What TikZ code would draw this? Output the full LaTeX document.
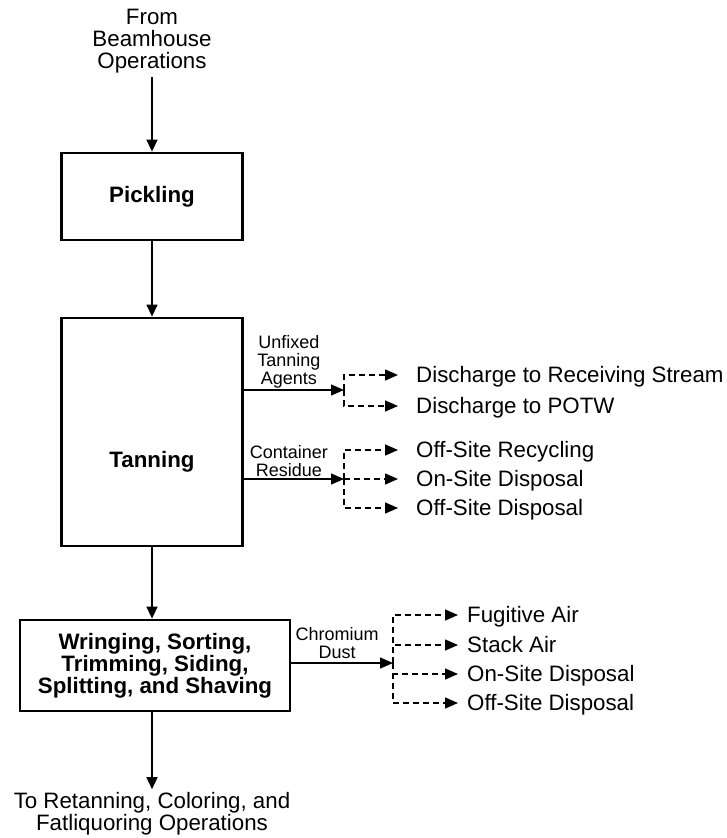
\documentclass[tikz,border=0pt]{standalone}
\usepackage{fontspec}
\setmainfont{Liberation Sans}
\usetikzlibrary{arrows.meta,positioning}

\newcommand{\flowfont}{\fontsize{22.3bp}{22bp}\selectfont}
\newcommand{\boldflow}{\fontsize{22.3bp}{22bp}\selectfont\bfseries}
\newcommand{\tagfont}{\fontsize{18bp}{18bp}\selectfont}

\tikzset{
  procbox/.style={draw, line width=2.8bp, font=\boldflow, align=center, inner sep=0pt},
  flowtxt/.style={font=\flowfont, align=center},
  outtxt/.style={font=\flowfont, anchor=west, text height=15.7bp, text depth=0pt, inner ysep=0pt},
  tagtxt/.style={font=\tagfont, align=center, inner sep=1.5bp},
  flow/.style={line width=1.5bp, -{Triangle[length=12bp,width=11bp]}},
  sideflow/.style={line width=1.3bp, -{Triangle[length=13bp,width=11bp]}},
  drain/.style={line width=1.5bp, dash pattern=on 6bp off 4bp, -{Triangle[length=13bp,width=11bp]}},
}

\begin{document}
\begin{tikzpicture}[x=1bp,y=-1bp]
\useasboundingbox (0,0) rectangle (727,838);

% main process line
\node[flowtxt] (src) at (152,41) {From\\Beamhouse\\Operations};
\node[procbox, minimum width=181bp, minimum height=87bp] (pick) at (152,196.5) {Pickling};
\node[procbox, minimum width=181bp, minimum height=228bp] (tan) at (152,432) {};
\node[font=\boldflow] (tanlbl) at (152,462) {Tanning};
\node[procbox, minimum width=270bp, minimum height=91bp] (wring) at (155,665.5)
  {Wringing, Sorting,\\Trimming, Siding,\\Splitting, and Shaving};
\node[flowtxt, font=\fontsize{22.3bp}{20bp}\selectfont] (dst) at (152,814) {To Retanning, Coloring, and\\Fatliquoring Operations};

\draw[flow] (src) -- (pick);
\draw[flow] (pick) -- (tan);
\draw[flow] (tan.south) -- (tan.south |- wring.north);
\draw[flow] (dst.north |- wring.south) -- (dst);

% split points
\coordinate (s1) at (344,390);
\coordinate (s2) at (344,479);
\coordinate (s3) at (393,663);

\draw[sideflow] (tan.east |- s1) -- node[tagtxt, above, pos=0.45] {Unfixed\\Tanning\\Agents} (s1);
\draw[sideflow] (tan.east |- s2) -- node[tagtxt, above, pos=0.45] {Container\\Residue} (s2);
\draw[sideflow] (wring.east |- s3) -- node[tagtxt, above, pos=0.45, yshift=2bp] {Chromium\\Dust} (s3);

% releases
\node[outtxt, inner xsep=18bp] (u1) at (398,375) {Discharge to Receiving Stream};
\node[outtxt, inner xsep=18bp] (u2) at (398,406) {Discharge to POTW};
\node[outtxt, inner xsep=18bp] (c1) at (398,450) {Off-Site Recycling};
\node[outtxt, inner xsep=18bp] (c2) at (398,479) {On-Site Disposal};
\node[outtxt, inner xsep=18bp] (c3) at (398,508) {Off-Site Disposal};
\node[outtxt, inner xsep=9bp] (k1) at (458,615) {Fugitive Air};
\node[outtxt, inner xsep=9bp] (k2) at (458,645) {Stack Air};
\node[outtxt, inner xsep=9bp] (k3) at (458,674) {On-Site Disposal};
\node[outtxt, inner xsep=9bp] (k4) at (458,703) {Off-Site Disposal};

\draw[drain] (s1) |- (u1.west);
\draw[drain] (s1) |- (u2.west);
\draw[drain] (s2) |- (c1.west);
\draw[drain] (s2) -- (c2.west);
\draw[drain] (s2) |- (c3.west);
\draw[drain] (s3) |- (k1.west);
\draw[drain] (s3) |- (k2.west);
\draw[drain] (s3) |- (k3.west);
\draw[drain] (s3) |- (k4.west);

\end{tikzpicture}
\end{document}
